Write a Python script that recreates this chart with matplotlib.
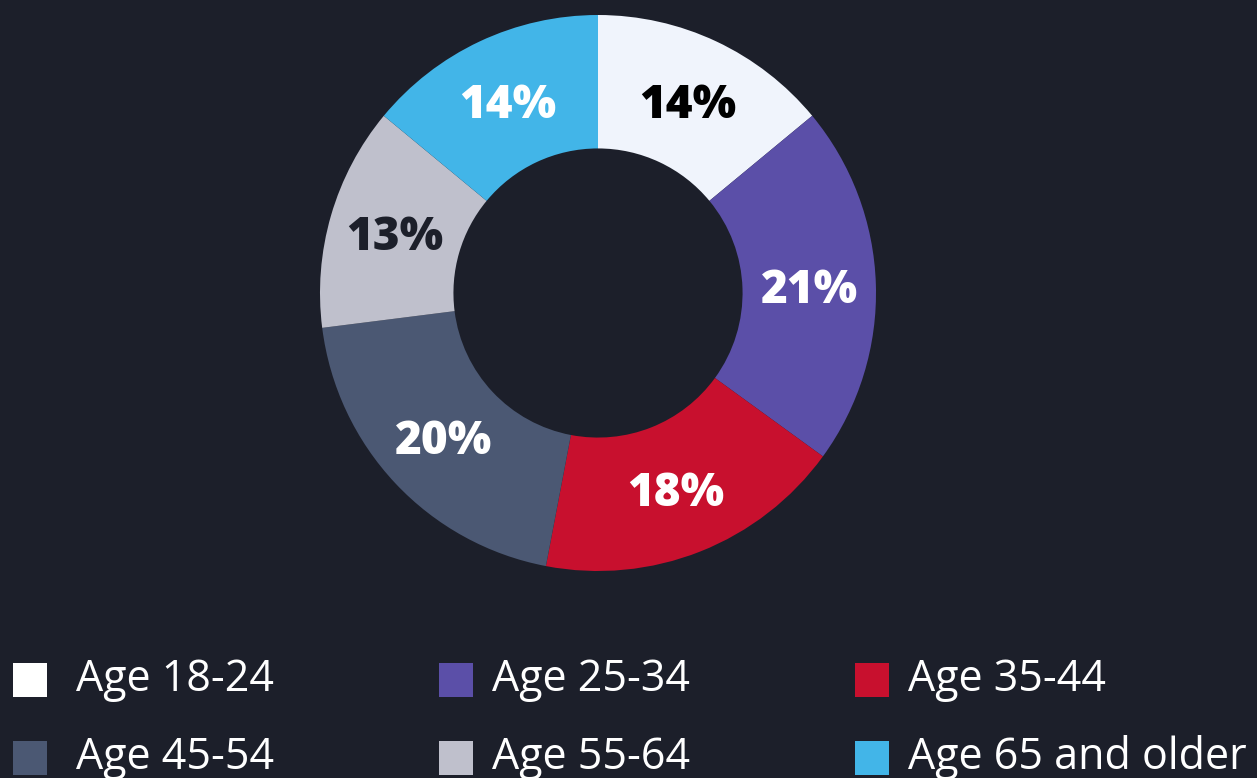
import matplotlib
matplotlib.use("Agg")
import matplotlib.pyplot as plt
from matplotlib.patches import Rectangle
import numpy as np

# data
labels = ["Age 18-24", "Age 25-34", "Age 35-44", "Age 45-54", "Age 55-64", "Age 65 and older"]
shares = [14, 21, 18, 20, 13, 14]
colors = ["#f0f4fc", "#5b4fa8", "#c8102e", "#4b5873", "#bfc0cc", "#42b5e8"]
pct_colors = ["#000000", "#ffffff", "#ffffff", "#ffffff", "#1c1f2a", "#ffffff"]

BG = "#1c1f2a"
W, H = 1257, 778
plt.rcParams["font.family"] = ["Open Sans", "DejaVu Sans"]

fig = plt.figure(figsize=(W / 100, H / 100), dpi=100)
fig.patch.set_facecolor(BG)

# donut: centre (598, 293) px, outer radius 278 px
cx, cy, r = 598, 293, 278
ax = fig.add_axes([(cx - r) / W, (H - cy - r) / H, 2 * r / W, 2 * r / H])
ax.set_facecolor(BG)
wedges, _ = ax.pie(shares, colors=colors, startangle=90, counterclock=False,
                   radius=1.0, wedgeprops=dict(width=0.48, linewidth=0))
ax.set_xlim(-1, 1)
ax.set_ylim(-1, 1)
ax.set_aspect("equal")
ax.axis("off")

# percent labels at ring centre
total = sum(shares)
for w, v, tc in zip(wedges, shares, pct_colors):
    mid = np.deg2rad((w.theta1 + w.theta2) / 2)
    rr = 0.76
    ax.text(rr * np.cos(mid), rr * np.sin(mid) - 0.015, f"{round(v / total * 100)}%",
            ha="center", va="center", color=tc, fontsize=33, fontweight="heavy")

# legend, row-major, 3 columns
col_x = [13, 439, 855]
txt_x = [76, 492, 908]
row_y = [680, 758]
sq = 34
for i, (lab, c) in enumerate(zip(labels, colors)):
    x = col_x[i % 3]
    y = row_y[i // 3]
    fig.patches.append(Rectangle((x / W, (H - y - sq / 2) / H), sq / W, sq / H,
                                 transform=fig.transFigure, facecolor=c if i else "#ffffff",
                                 edgecolor="none"))
    fig.text(txt_x[i % 3] / W, (H - y) / H, lab, color="white", fontsize=31,
             ha="left", va="center")

fig.savefig("out.png", dpi=100, facecolor=BG)
